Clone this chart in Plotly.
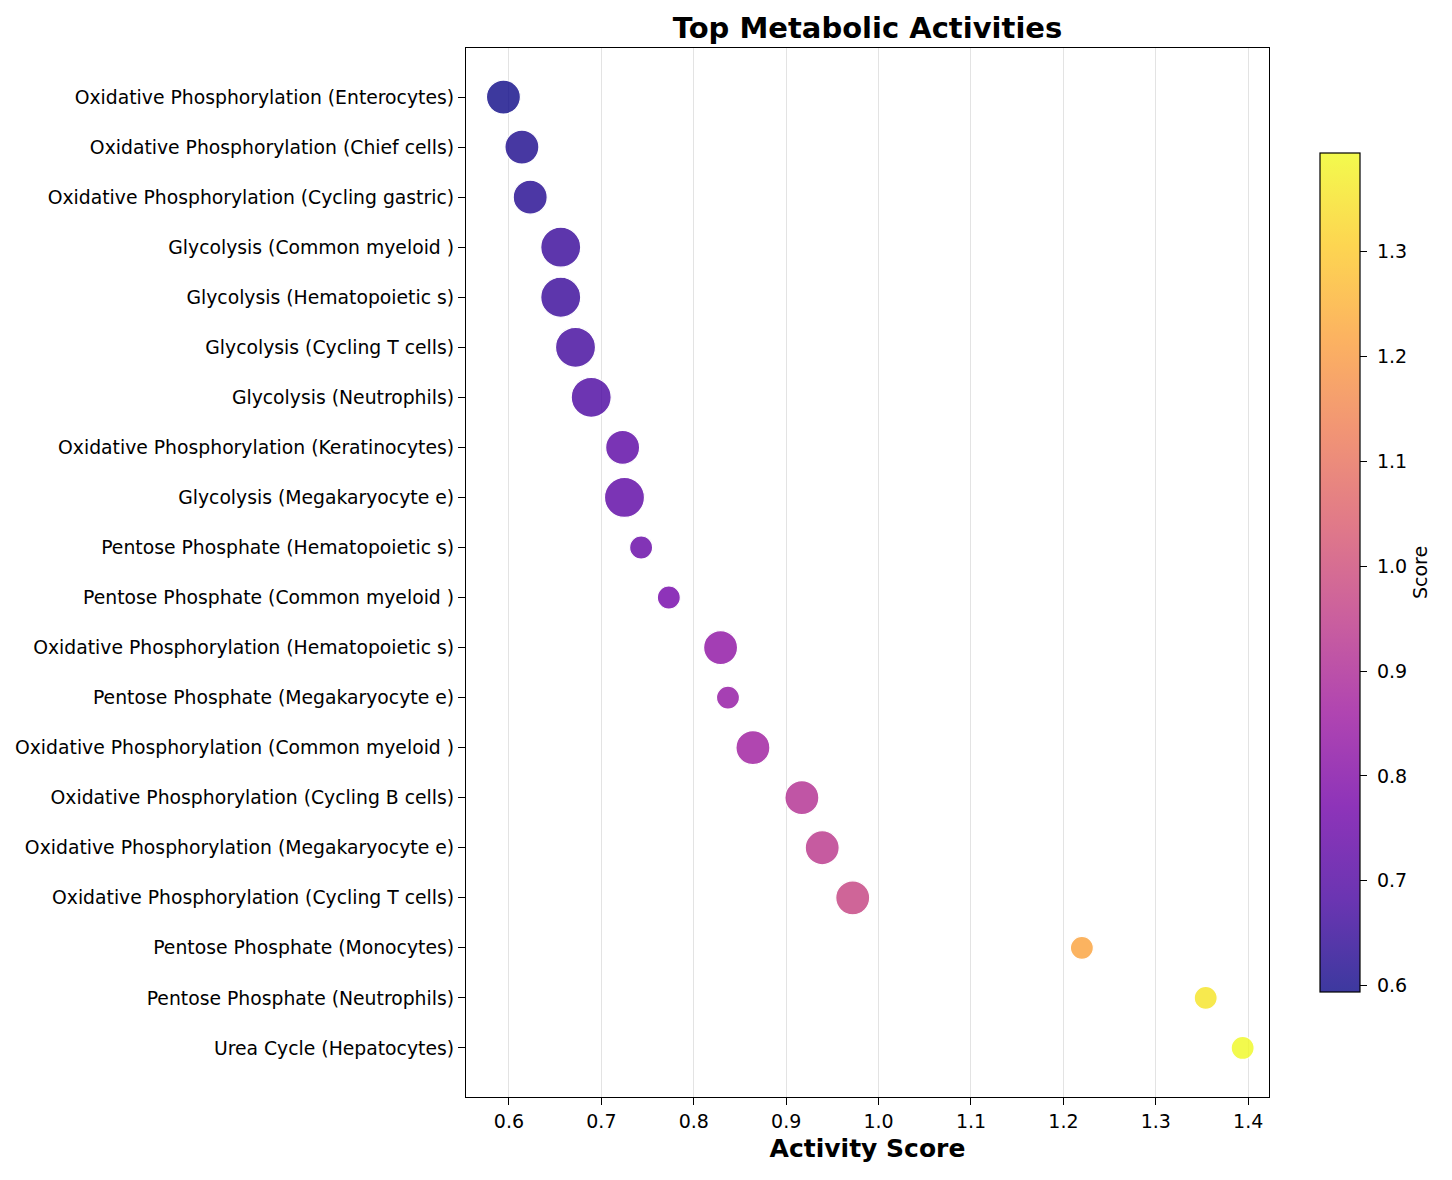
import plotly.graph_objects as go
from plotly.colors import sequential, hex_to_rgb

# Data (top to bottom).
activities = [
    'Oxidative Phosphorylation (Enterocytes)',
    'Oxidative Phosphorylation (Chief cells)',
    'Oxidative Phosphorylation (Cycling gastric)',
    'Glycolysis (Common myeloid )',
    'Glycolysis (Hematopoietic s)',
    'Glycolysis (Cycling T cells)',
    'Glycolysis (Neutrophils)',
    'Oxidative Phosphorylation (Keratinocytes)',
    'Glycolysis (Megakaryocyte e)',
    'Pentose Phosphate (Hematopoietic s)',
    'Pentose Phosphate (Common myeloid )',
    'Oxidative Phosphorylation (Hematopoietic s)',
    'Pentose Phosphate (Megakaryocyte e)',
    'Oxidative Phosphorylation (Common myeloid )',
    'Oxidative Phosphorylation (Cycling B cells)',
    'Oxidative Phosphorylation (Megakaryocyte e)',
    'Oxidative Phosphorylation (Cycling T cells)',
    'Pentose Phosphate (Monocytes)',
    'Pentose Phosphate (Neutrophils)',
    'Urea Cycle (Hepatocytes)',
]
scores = [0.594, 0.614, 0.623, 0.656, 0.656, 0.672, 0.689, 0.723, 0.725, 0.743,
          0.773, 0.829, 0.837, 0.864, 0.917, 0.939, 0.972, 1.220, 1.354, 1.394]
cbar_ticks = [0.6, 0.7, 0.8, 0.9, 1.0, 1.1, 1.2, 1.3]

# Marker diameter depends on the pathway.
pathway_sizes = {'Oxidative Phosphorylation': 34, 'Glycolysis': 40,
                 'Pentose Phosphate': 23, 'Urea Cycle': 23}
sizes = [pathway_sizes[a.split(' (')[0]] for a in activities]

ALPHA = 0.8
plasma = sequential.Plasma
# Colorbar shows the colours as seen with alpha on white.
faded = []
for i, c in enumerate(plasma):
    r, g, b = hex_to_rgb(c)
    r, g, b = [round(ALPHA * v + (1 - ALPHA) * 255) for v in (r, g, b)]
    faded.append([i / (len(plasma) - 1), f'rgb({r},{g},{b})'])

tick_font = dict(size=19)

fig = go.Figure()
fig.add_trace(go.Scatter(
    x=scores, y=activities, mode='markers',
    marker=dict(size=sizes, color=scores, colorscale='Plasma',
                cmin=min(scores), cmax=max(scores), opacity=ALPHA,
                line=dict(color='white', width=1.2), showscale=False),
    showlegend=False,
))
# Colorbar only.
fig.add_trace(go.Scatter(
    x=[None], y=[None], mode='markers', hoverinfo='skip', showlegend=False,
    marker=dict(color=[min(scores)], colorscale=faded,
                cmin=min(scores), cmax=max(scores), showscale=True,
                colorbar=dict(title=dict(text='Score', side='right',
                                         font=dict(size=19)),
                              thickness=40, len=0.8, lenmode='fraction',
                              x=(1320 - 8 - 458) / 803, xanchor='left', xpad=0,
                              y=0.5, yanchor='middle', ypad=0,
                              outlinecolor='black', outlinewidth=1.2,
                              ticks='outside', ticklen=7, tickcolor='black',
                              tickvals=cbar_ticks,
                              ticktext=['\u00a0' + f'{t:.1f}' for t in cbar_ticks],
                              tickfont=tick_font)),
))

fig.update_layout(
    width=1452, height=1180,
    font=dict(family='DejaVu Sans', size=19, color='black'),
    plot_bgcolor='white', paper_bgcolor='white',
    margin=dict(l=458, r=191, t=40, b=91, autoexpand=False),
    title=dict(text='<b>Top Metabolic Activities</b>', x=0.5, xref='paper',
               y=1 - 20 / 1180, yref='container', yanchor='middle',
               xanchor='center', font=dict(size=29)),
)
fig.update_xaxes(
    range=[0.5535, 1.4225], dtick=0.1, tickformat='.1f',
    showgrid=True, gridcolor='#e3e3e3', gridwidth=1.2,
    showline=True, linecolor='black', linewidth=1.3, mirror=True,
    ticks='outside', ticklen=7, tickcolor='black', tickfont=tick_font,
    title=dict(text='<b>Activity Score</b>', font=dict(size=25), standoff=8),
    zeroline=False, automargin=False,
)
fig.update_yaxes(
    type='category', categoryorder='array', categoryarray=activities,
    range=[len(activities) - 1 + 0.98, -0.98],
    showgrid=False, showline=True, linecolor='black', linewidth=1.3, mirror=True,
    ticks='outside', ticklen=7, tickcolor='black', tickfont=dict(size=18.8),
    zeroline=False, automargin=False,
)
fig.write_html('out.html')
